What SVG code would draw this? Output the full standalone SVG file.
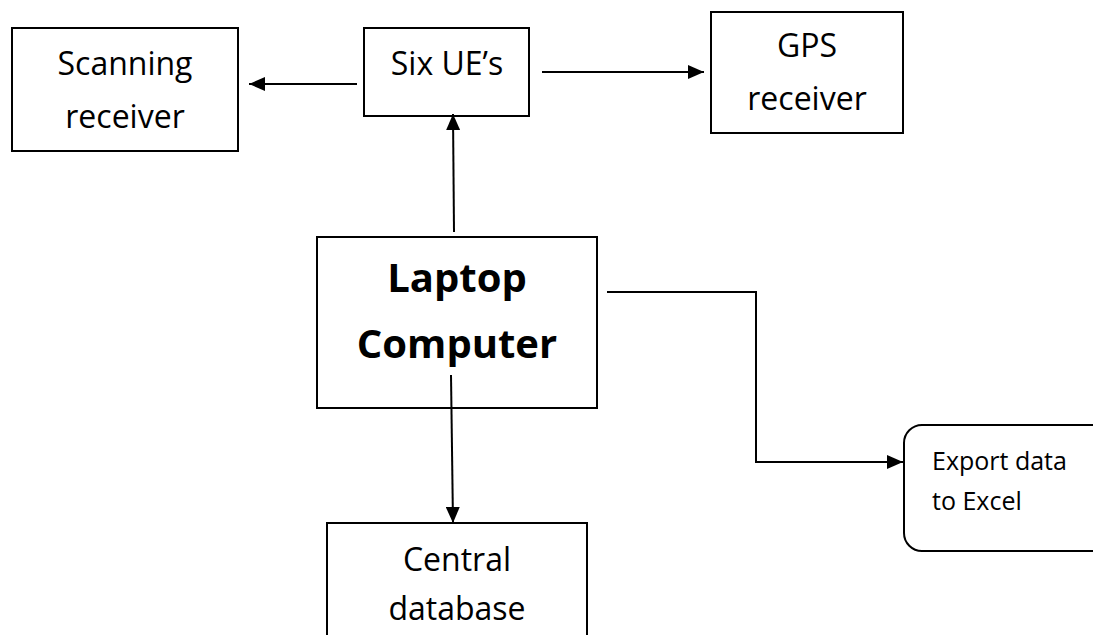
<svg xmlns="http://www.w3.org/2000/svg" width="1093" height="635" viewBox="0 0 1093 635">
  <style>
    .box { fill: #ffffff; stroke: #000000; stroke-width: 2; }
    .wire { fill: none; stroke: #000000; stroke-width: 2; }
    .lbl { font-family: "Open Sans", "Liberation Sans", sans-serif; font-size: 32px; fill: #000000; text-anchor: middle; }
    .big { font-family: "Open Sans", "Liberation Sans", sans-serif; font-size: 40px; font-weight: bold; fill: #000000; text-anchor: middle; }
    .small { font-family: "Open Sans", "Liberation Sans", sans-serif; font-size: 25px; fill: #000000; }
  </style>
  <defs>
    <marker id="arrow" viewBox="0 0 16 14" refX="16" refY="7" markerWidth="16" markerHeight="14" markerUnits="userSpaceOnUse" orient="auto">
      <path d="M0,0 L16,7 L0,14 Z" fill="#000000"/>
    </marker>
  </defs>

  <rect width="1093" height="635" fill="#ffffff"/>

  <g id="scanning-receiver">
    <rect class="box" x="12" y="28" width="226" height="123"/>
    <text class="lbl" x="125" y="75">Scanning</text>
    <text class="lbl" x="125" y="128">receiver</text>
  </g>

  <g id="six-ues">
    <rect class="box" x="364" y="28" width="165" height="88"/>
    <text class="lbl" x="447" y="75">Six UE’s</text>
  </g>

  <g id="gps-receiver">
    <rect class="box" x="711" y="12" width="192" height="121"/>
    <text class="lbl" x="807" y="57">GPS</text>
    <text class="lbl" x="807" y="110">receiver</text>
  </g>

  <g id="laptop-computer">
    <rect class="box" x="317" y="237" width="280" height="171"/>
    <text class="big" x="457" y="292">Laptop</text>
    <text class="big" x="457" y="358">Computer</text>
  </g>

  <g id="export-excel">
    <rect class="box" x="904" y="425" width="205" height="126" rx="18" ry="18"/>
    <text class="small" x="932" y="470">Export data</text>
    <text class="small" x="932" y="510">to Excel</text>
  </g>

  <g id="central-database">
    <rect class="box" x="327" y="523" width="260" height="130"/>
    <text class="lbl" x="457" y="571">Central</text>
    <text class="lbl" x="457" y="620">database</text>
  </g>

  <g id="connectors">
    <line class="wire" x1="357" y1="84" x2="249" y2="84" marker-end="url(#arrow)"/>
    <line class="wire" x1="542" y1="72" x2="704" y2="72" marker-end="url(#arrow)"/>
    <line class="wire" x1="454" y1="232" x2="453" y2="114" marker-end="url(#arrow)"/>
    <polyline class="wire" points="607,292 756,292 756,462 903,462" marker-end="url(#arrow)"/>
    <line class="wire" x1="451" y1="375" x2="453" y2="523" marker-end="url(#arrow)"/>
  </g>
</svg>
